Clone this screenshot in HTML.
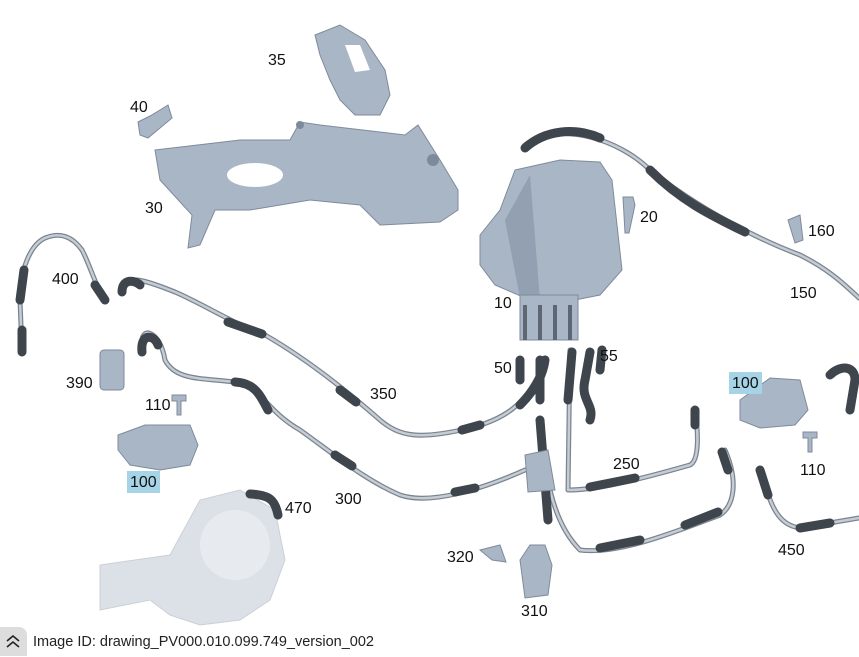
<!DOCTYPE html>
<html><head><meta charset="utf-8"><style>
body{margin:0;width:859px;height:656px;background:#fff;overflow:hidden;font-family:"Liberation Sans",sans-serif}
svg{position:absolute;left:0;top:0}
.l{font-size:16px;fill:#111}
.hl{fill:#a6d3e6}
.h{fill:none;stroke:#7a848f;stroke-width:5;stroke-linecap:round;stroke-linejoin:round}
.hi{fill:none;stroke:#c5ccd4;stroke-width:2.5;stroke-linecap:round;stroke-linejoin:round}
.b{fill:none;stroke:#3f454c;stroke-width:9;stroke-linecap:round}
.p{fill:#a9b6c6;stroke:#7f8b9b;stroke-width:1}
.d{fill:#7d8a9b}
#btn{position:absolute;left:0;top:627px;width:27px;height:29px;background:#ddd;border-radius:0 8px 0 0}
#cap{position:absolute;left:33px;top:634px;font-size:14.5px;color:#222}
</style></head><body>
<svg width="859" height="656" viewBox="0 0 859 656">
<g opacity="0.4">
<path class="p" d="M100 565 L170 555 L200 500 L240 490 L275 510 L285 560 L270 600 L240 620 L200 625 L170 615 L150 600 L100 610 Z"/>
<circle cx="235" cy="545" r="35" fill="#c5cdd8"/>
</g>
<path class="p" d="M315 35 L340 25 L365 40 L385 70 L390 95 L380 115 L355 115 L340 100 L330 80 L320 55 Z"/>
<path fill="#fff" d="M345 45 L360 45 L370 70 L355 72 Z"/>
<path class="p" d="M138 122 L150 116 L160 110 L168 105 L172 118 L160 128 L148 138 L140 135 Z"/>
<path class="p" d="M155 150 L240 140 L290 140 L300 122 L320 125 L405 135 L418 125 L440 160 L458 190 L458 210 L440 222 L380 225 L360 205 L310 200 L250 210 L215 210 L200 245 L188 248 L192 215 L160 180 Z"/>
<ellipse cx="255" cy="175" rx="28" ry="12" fill="#fff"/>
<circle cx="433" cy="160" r="6" class="d"/><circle cx="300" cy="125" r="4" class="d"/>
<path class="p" d="M515 170 L560 160 L600 162 L612 180 L622 270 L600 295 L575 300 L530 300 L495 285 L480 265 L480 235 L500 210 Z"/>
<path class="d" d="M530 175 L540 300 L520 298 L505 220 Z" opacity=".5"/>
<rect x="520" y="295" width="58" height="45" class="p"/>
<path d="M525 305 v35 M540 305 v35 M555 305 v35 M570 305 v35" stroke="#5d6773" stroke-width="4"/>
<path class="p" d="M623 197 l10 0 l2 8 l-6 28 l-4 0 Z"/>
<path class="p" d="M788 220 L800 215 L803 240 L795 243 Z"/>
<g>
<path class="h" d="M525 145 C560 120 620 140 650 170 C700 210 760 240 800 255 C830 270 845 285 859 298"/>
<path class="hi" d="M525 145 C560 120 620 140 650 170 C700 210 760 240 800 255 C830 270 845 285 859 298"/>
<path class="b" d="M525 148 C545 130 575 127 600 138 M650 170 C680 200 710 215 745 232"/>
<path class="h" d="M22 352 L20 300 C20 270 30 245 45 238 C60 232 72 236 82 250 C90 265 95 285 105 300"/>
<path class="hi" d="M22 352 L20 300 C20 270 30 245 45 238 C60 232 72 236 82 250 C90 265 95 285 105 300"/>
<path class="b" d="M22 352 L22 330 M20 300 L24 270 M95 285 L105 300"/>
<path class="h" d="M122 292 C122 272 145 280 175 292 C205 305 230 322 265 335 C300 355 340 385 380 420 C400 437 420 440 470 428 C510 418 530 400 545 360"/>
<path class="hi" d="M122 292 C122 272 145 280 175 292 C205 305 230 322 265 335 C300 355 340 385 380 420 C400 437 420 440 470 428 C510 418 530 400 545 360"/>
<path class="b" d="M122 292 C122 278 135 280 140 285 M228 322 L262 334 M340 390 L356 402 M462 430 L480 425 M520 405 C535 390 543 375 545 360"/>
<path class="h" d="M142 345 C140 325 160 330 165 360 C175 380 200 378 235 382 C260 385 265 410 300 430 C335 455 365 480 400 495 C430 505 480 490 525 470"/>
<path class="hi" d="M142 345 C140 325 160 330 165 360 C175 380 200 378 235 382 C260 385 265 410 300 430 C335 455 365 480 400 495 C430 505 480 490 525 470"/>
<path class="b" d="M142 352 C140 332 155 335 158 345 M235 382 C255 383 260 395 268 410 M335 455 L352 466 M455 492 L475 488"/>
<path class="h" d="M570 350 L568 490 C590 490 620 485 690 465 C700 460 698 430 695 410"/>
<path class="hi" d="M570 350 L568 490 C590 490 620 485 690 465 C700 460 698 430 695 410"/>
<path class="b" d="M572 352 L568 400 M590 487 L635 478 M695 425 L695 410"/>
<path class="h" d="M540 420 C545 470 550 520 580 550 C620 555 680 530 720 515 C735 505 738 480 725 450"/>
<path class="hi" d="M540 420 C545 470 550 520 580 550 C620 555 680 530 720 515 C735 505 738 480 725 450"/>
<path class="b" d="M540 420 L548 520 M600 548 L640 540 M685 525 L718 512 M728 470 L722 452"/>
<path class="h" d="M760 470 C770 500 775 525 800 528 L859 518"/>
<path class="hi" d="M760 470 C770 500 775 525 800 528 L859 518"/>
<path class="b" d="M760 470 L768 495 M800 528 L830 523"/>
<path class="b" d="M590 352 L585 380 C580 400 595 405 590 420 M602 350 L600 370"/>
<path class="b" d="M520 360 L520 380 M540 360 L540 400"/>
<path class="b" d="M250 494 C270 495 275 500 278 515"/>
<path class="b" d="M830 375 C840 365 855 365 855 380 L850 410"/>
</g>
<rect x="100" y="350" width="24" height="40" rx="4" class="p"/>
<path class="p" d="M172 395 h14 v6 h-5 v14 h-4 v-14 h-5 z"/>
<path class="p" d="M803 432 h14 v6 h-5 v14 h-4 v-14 h-5 z"/>
<path class="p" d="M118 435 L145 425 L190 425 L198 445 L190 465 L160 470 L130 465 L118 450 Z"/>
<path class="p" d="M740 400 L770 378 L800 380 L808 410 L795 425 L760 428 L740 420 Z"/>
<path class="p" d="M520 560 L530 545 L545 545 L552 565 L548 595 L525 598 Z"/>
<path class="p" d="M480 550 L500 545 L506 562 L492 560 Z"/>
<path class="p" d="M525 455 L548 450 L555 490 L528 492 Z"/>
<rect x="127" y="471" width="33" height="22" class="hl"/>
<rect x="729" y="372" width="33" height="22" class="hl"/>
<text class="l" x="268" y="65">35</text>
<text class="l" x="130" y="112">40</text>
<text class="l" x="145" y="213">30</text>
<text class="l" x="640" y="222">20</text>
<text class="l" x="808" y="236">160</text>
<text class="l" x="52" y="284">400</text>
<text class="l" x="494" y="308">10</text>
<text class="l" x="790" y="298">150</text>
<text class="l" x="494" y="373">50</text>
<text class="l" x="600" y="361">55</text>
<text class="l" x="66" y="388">390</text>
<text class="l" x="370" y="399">350</text>
<text class="l" x="145" y="410">110</text>
<text class="l" x="732" y="388">100</text>
<text class="l" x="800" y="475">110</text>
<text class="l" x="613" y="469">250</text>
<text class="l" x="130" y="487">100</text>
<text class="l" x="335" y="504">300</text>
<text class="l" x="285" y="513">470</text>
<text class="l" x="778" y="555">450</text>
<text class="l" x="447" y="562">320</text>
<text class="l" x="521" y="616">310</text>
<path d="M8 642 l6 -5 l6 5 M8 648 l6 -5 l6 5" fill="none" stroke="#222" stroke-width="1.6"/>
</svg>
<div id="btn"></div>
<svg width="27" height="30" style="left:0;top:627px"><path d="M7 14 l6 -5 l6 5 M7 20 l6 -5 l6 5" fill="none" stroke="#222" stroke-width="1.6"/></svg>
<div id="cap">Image ID: drawing_PV000.010.099.749_version_002</div>
</body></html>
